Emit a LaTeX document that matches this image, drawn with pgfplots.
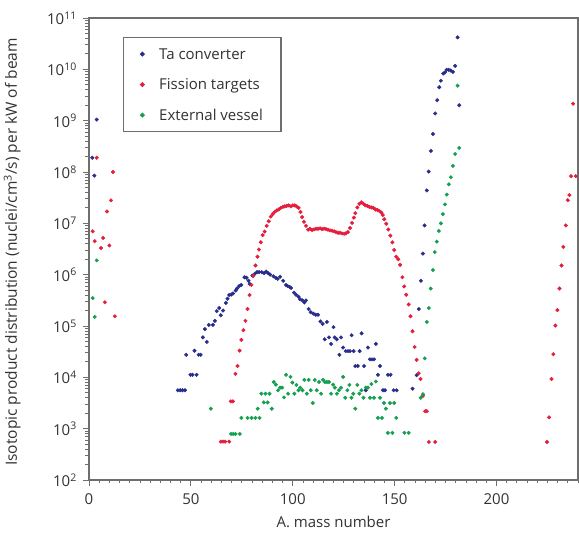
\documentclass[border=0pt]{standalone}
\usepackage{fontspec}
\setmainfont{Open Sans}
\usepackage{pgfplots}
\pgfplotsset{compat=1.18}
\definecolor{tablue}{RGB}{40,45,140}
\definecolor{fisred}{RGB}{228,30,60}
\definecolor{extgreen}{RGB}{20,160,80}
\definecolor{axgray}{RGB}{110,110,110}
\definecolor{txt}{RGB}{50,50,50}
\begin{document}
\fontsize{15pt}{18pt}\selectfont
\begin{tikzpicture}[font=\fontsize{15pt}{18pt}\selectfont]
\useasboundingbox (-89pt,-53pt) rectangle (490pt,480pt);
\begin{axis}[
  at={(0pt,0pt)}, anchor=south west,
  scale only axis, width=489pt, height=462pt,
  xmin=0, xmax=240, ymin=1e2, ymax=1e11,
  ymode=log, log basis y=10,
  /pgf/number format/assume math mode=true,
  xtick={0,50,...,250}, minor x tick num=9,
  ytick={1e2,1e3,1e4,1e5,1e6,1e7,1e8,1e9,1e10,1e11},
  yticklabels={10\textsuperscript{2},10\textsuperscript{3},10\textsuperscript{4},10\textsuperscript{5},10\textsuperscript{6},10\textsuperscript{7},10\textsuperscript{8},10\textsuperscript{9},10\textsuperscript{10},10\textsuperscript{11}},
  minor ytick={2e2,3e2,4e2,5e2,6e2,7e2,8e2,9e2,2e3,3e3,4e3,5e3,6e3,7e3,8e3,9e3,2e4,3e4,4e4,5e4,6e4,7e4,8e4,9e4,2e5,3e5,4e5,5e5,6e5,7e5,8e5,9e5,2e6,3e6,4e6,5e6,6e6,7e6,8e6,9e6,2e7,3e7,4e7,5e7,6e7,7e7,8e7,9e7,2e8,3e8,4e8,5e8,6e8,7e8,8e8,9e8,2e9,3e9,4e9,5e9,6e9,7e9,8e9,9e9,2e10,3e10,4e10,5e10,6e10,7e10,8e10,9e10},
  xtick pos=bottom, ytick pos=left, tick align=outside,
  major tick length=6pt, minor tick length=3.5pt,
  tick style={axgray, line width=0.8pt},
  axis line style={axgray, line width=1.3pt},
  ticklabel style={text=txt},
  xticklabel style={yshift=-2pt},
  yticklabel style={xshift=-1pt},
  every axis y label/.style={at={(axis description cs:-0.157,0.4935)}, rotate=90, anchor=center, text=txt, font=\fontsize{15.5pt}{19pt}\selectfont},
  every axis x label/.style={at={(axis description cs:0.5,-0.091)}, anchor=center, text=txt},
  xlabel={A. mass number},
  ylabel={Isotopic product distribution (nuclei/cm\textsuperscript{3}/s) per kW of beam},
  legend image code/.code={\draw[#1] plot coordinates {(0pt,0pt)};},
  legend style={at={(axis description cs:0.0695,0.959)}, anchor=north west,
    draw=axgray, line width=1.2pt, fill=white, inner xsep=17pt, inner ysep=9.5pt,
    row sep=16.5pt, column sep=14pt, text=txt,
    nodes={inner sep=1pt, text height=11pt, text depth=1pt}},
  legend cell align=left,
  clip=false,
]
\addplot[only marks, mark=*, mark size=1.8pt, color=tablue, mark options={draw=none, fill=tablue}] coordinates {
(1.6,1.9e8)(2.6,8.5e7)(3.8,1.05e9)
(43.6,5.6e3)(44.8,5.6e3)(45.9,5.6e3)(47.1,5.6e3)(47.7,2.75e4)(49.8,1.12e4)(50.8,1.12e4)(51.8,3.3e4)(52.8,1.12e4)(53.8,2.75e4)(54.8,2.75e4)(55.9,6.0e4)(56.9,8.7e4)(57.8,4.9e4)(58.8,1.05e5)(60.8,1.05e5)(61.8,1.26e5)(62.7,1.95e5)(63.9,2.24e5)(64.7,1.62e5)(65.8,2.0e5)(67.2,2.82e5)(68.0,3.4e5)(68.8,4.0e5)(69.8,4.1e5)(70.7,4.3e5)(72.0,4.9e5)(72.7,5.4e5)(73.7,6.0e5)(74.7,6.3e5)(76.3,8.9e5)(77.3,8.7e5)(78.3,7.6e5)(78.9,6.6e5)(80.2,9.6e5)(81.5,1.05e6)(82.5,1.12e6)(83.5,1.12e6)(84.8,1.12e6)(85.9,1.07e6)(86.9,1.15e6)(87.9,1.07e6)(88.9,1.0e6)(90.5,9.3e5)(91.7,8.7e5)(92.6,8.3e5)(93.8,9.1e5)(95.3,7.6e5)(96.7,6.3e5)(97.5,6.0e5)(98.5,5.75e5)(99.2,5.5e5)(100.6,4.47e5)(101.6,4.07e5)(102.8,3.72e5)(103.6,3.31e5)(104.7,3.16e5)(105.7,2.88e5)(106.5,3.16e5)(107.8,2.14e5)(108.8,1.86e5)(110.1,1.74e5)(111.3,1.66e5)(112.4,1.66e5)(113.6,1.23e5)(114.7,1.10e5)(115.7,5.5e4)(116.8,1.20e5)(117.8,6.0e4)(118.8,4.47e4)(120.0,9.5e4)(120.6,6.0e4)(121.6,5.5e4)(122.9,2.75e4)(123.7,6.0e4)(124.7,3.8e4)(126.0,3.24e4)(127.1,3.24e4)(128.1,3.24e4)(128.9,6.6e4)(129.9,3.24e4)(130.7,1.66e4)(131.9,1.66e4)(132.8,3.24e4)(133.8,7.2e4)(135.0,1.66e4)(135.8,5.6e3)(136.9,3.8e4)(137.9,2.24e4)(138.9,2.24e4)(139.9,2.24e4)(140.8,4.47e4)(141.8,1.12e4)(142.8,1.66e4)(144.3,5.6e3)(145.3,5.6e3)(146.7,1.12e4)(148.0,1.12e4)(149.5,5.6e3)(151.0,5.6e3)(158.8,6.0e3)(160.8,1.1e4)(161.9,2.14e5)(162.9,7.6e5)(163.9,2.57e6)(164.7,9.1e6)(165.8,4.37e7)(166.7,1.02e8)(167.8,2.57e8)(168.8,5.5e8)(169.9,1.38e9)(170.9,2.51e9)(171.9,4.47e9)(172.7,6.0e9)(173.9,8.3e9)(174.7,8.7e9)(175.5,9.8e9)(176.5,9.8e9)(177.5,9.5e9)(178.6,8.9e9)(179.7,1.17e10)(180.9,4.2e10)(181.7,2.0e9)
};
\addplot[only marks, mark=*, mark size=1.8pt, color=fisred, mark options={draw=none, fill=fisred}] coordinates {
(1.8,7.0e6)(2.8,4.5e6)(3.8,1.9e8)(5.9,3.3e6)(6.9,5.2e6)(7.8,2.9e5)(8.8,1.7e7)(10.0,3.7e6)(10.8,2.8e7)(11.8,1.0e8)(12.7,1.55e5)
(64.7,5.6e2)(65.8,5.6e2)(66.8,5.6e2)(68.8,5.6e2)(69.6,3.4e3)(70.6,3.4e3)(71.9,1.17e4)(72.9,1.66e4)(73.9,3.31e4)(74.8,5.37e4)(75.8,8.3e4)(76.8,1.26e5)(77.8,2.14e5)(78.8,4.0e5)(79.7,6.3e5)(80.7,9.5e5)(81.7,1.51e6)(82.7,2.24e6)(83.4,3.09e6)(84.3,4.27e6)(85.2,5.89e6)(86.2,6.92e6)(87.2,8.91e6)(88.2,1.10e7)(89.2,1.35e7)(90.1,1.51e7)(91.1,1.66e7)(92.1,1.78e7)(93.1,1.86e7)(94.1,2.0e7)(95.1,2.09e7)(96.0,2.14e7)(97.0,2.19e7)(98.0,2.24e7)(99.0,2.14e7)(100.0,2.24e7)(100.9,2.24e7)(101.9,2.14e7)(102.9,2.0e7)(103.8,1.66e7)(104.6,1.32e7)(105.5,1.07e7)(106.5,8.91e6)
(107.5,7.52e6)(108.5,7.85e6)(109.5,7.4e6)(110.4,7.62e6)(111.4,7.85e6)(112.4,7.85e6)(113.4,7.98e6)(114.4,7.74e6)(115.3,7.85e6)(116.3,7.74e6)(117.3,7.52e6)(118.3,7.29e6)(119.3,7.18e6)(120.3,6.97e6)(121.2,6.76e6)(122.2,6.56e6)(123.2,6.56e6)(124.2,6.37e6)(125.2,6.27e6)(126.1,6.37e6)(127.1,6.76e6)
(128.1,8.13e6)(129.1,1.02e7)(130.0,1.29e7)(130.7,1.58e7)(131.7,2.04e7)(132.7,2.40e7)(133.7,2.57e7)(134.7,2.40e7)(135.6,2.24e7)(136.6,2.19e7)(137.6,2.09e7)(138.6,2.04e7)(139.6,2.0e7)(140.6,1.86e7)(141.6,1.82e7)(142.5,1.74e7)(143.5,1.62e7)(144.2,1.45e7)(144.9,1.20e7)(145.9,9.8e6)(146.9,7.6e6)(147.9,5.75e6)(148.9,4.27e6)(149.8,3.02e6)(150.8,2.24e6)(151.8,2.0e6)(152.7,1.55e6)(153.8,8.9e5)(154.7,5.9e5)(155.7,4.07e5)(156.9,2.63e5)(157.8,1.55e5)(158.8,7.9e4)(159.8,3.9e4)(160.8,2.19e4)(161.8,1.20e4)(162.7,9.3e3)(163.9,4.37e3)(165.0,2.19e3)(165.8,2.19e3)(166.8,5.5e2)(169.9,5.5e2)
(224.8,5.5e2)(225.8,1.66e3)(227.0,9.3e3)(227.9,2.82e4)(228.9,1.02e5)(229.9,2.04e5)(230.9,5.37e5)(231.9,1.51e6)(232.8,3.47e6)(234.0,9.1e6)(235.0,2.82e7)(235.8,3.55e7)(236.6,8.3e7)(237.6,2.14e9)(238.9,8.3e7)
};
\addplot[only marks, mark=*, mark size=1.8pt, color=extgreen, mark options={draw=none, fill=extgreen}] coordinates {
(1.8,3.5e5)(2.8,1.5e5)(3.8,1.9e6)
(59.8,2.45e3)(69.7,7.9e2)(70.8,7.9e2)(71.9,7.9e2)(74.0,7.9e2)(74.8,1.62e3)(77.8,1.62e3)(79.8,1.62e3)(81.7,1.62e3)(82.8,2.45e3)(83.7,1.62e3)(84.6,4.8e3)(85.8,3.24e3)(86.6,4.8e3)(87.7,3.24e3)(88.6,4.8e3)(89.7,2.45e3)(90.7,8.1e3)(91.7,7.2e3)(92.8,5.6e3)(93.8,6.3e3)(94.8,6.3e3)(95.7,4.07e3)(96.7,1.12e4)(97.7,4.8e3)(98.9,1.02e4)(99.8,7.9e3)(100.8,4.8e3)(101.8,7.1e3)(102.8,5.6e3)(103.7,6.3e3)(104.8,5.6e3)(105.7,8.9e3)(106.9,4.8e3)(107.8,8.9e3)(108.8,5.6e3)(109.8,3.16e3)(110.8,8.9e3)(111.8,5.6e3)(112.9,8.1e3)(113.9,4.8e3)(114.9,8.9e3)(115.8,8.1e3)(116.8,8.1e3)(117.8,8.1e3)(118.8,4.8e3)(119.8,7.2e3)(120.7,6.3e3)(121.7,4.8e3)(122.7,5.6e3)(123.7,6.3e3)(124.7,1.02e4)(125.8,4.0e3)(126.8,5.6e3)(127.8,7.1e3)(128.8,4.0e3)(129.7,4.8e3)(130.7,2.45e3)(131.7,7.1e3)(132.7,4.8e3)(133.7,5.6e3)(134.7,4.0e3)(135.9,6.3e3)(136.9,6.3e3)(137.9,4.0e3)(138.6,7.4e3)(139.9,4.0e3)(140.8,8.3e3)(141.8,1.62e3)(142.8,4.0e3)(143.8,1.62e3)(144.8,3.16e3)(145.7,2.45e3)(146.7,8.3e2)(147.7,3.16e3)(148.9,8.3e2)(149.8,3.16e3)(150.8,1.62e3)(154.8,8.3e2)(156.9,8.3e2)
(162.8,4.0e3)(163.9,4.68e3)(164.8,2.34e4)(165.8,1.20e5)(166.8,2.24e5)(167.7,5.37e5)(168.8,1.23e6)(169.7,2.75e6)(170.7,4.4e6)(171.7,7.1e6)(172.7,1.0e7)(173.7,1.51e7)(174.7,2.34e7)(175.6,3.63e7)(176.6,5.75e7)(177.6,7.9e7)(178.6,1.32e8)(179.7,2.24e8)(180.9,4.8e9)(181.7,2.95e8)
};
\legend{Ta converter, Fission targets, External vessel}
\end{axis}
\end{tikzpicture}
\end{document}
